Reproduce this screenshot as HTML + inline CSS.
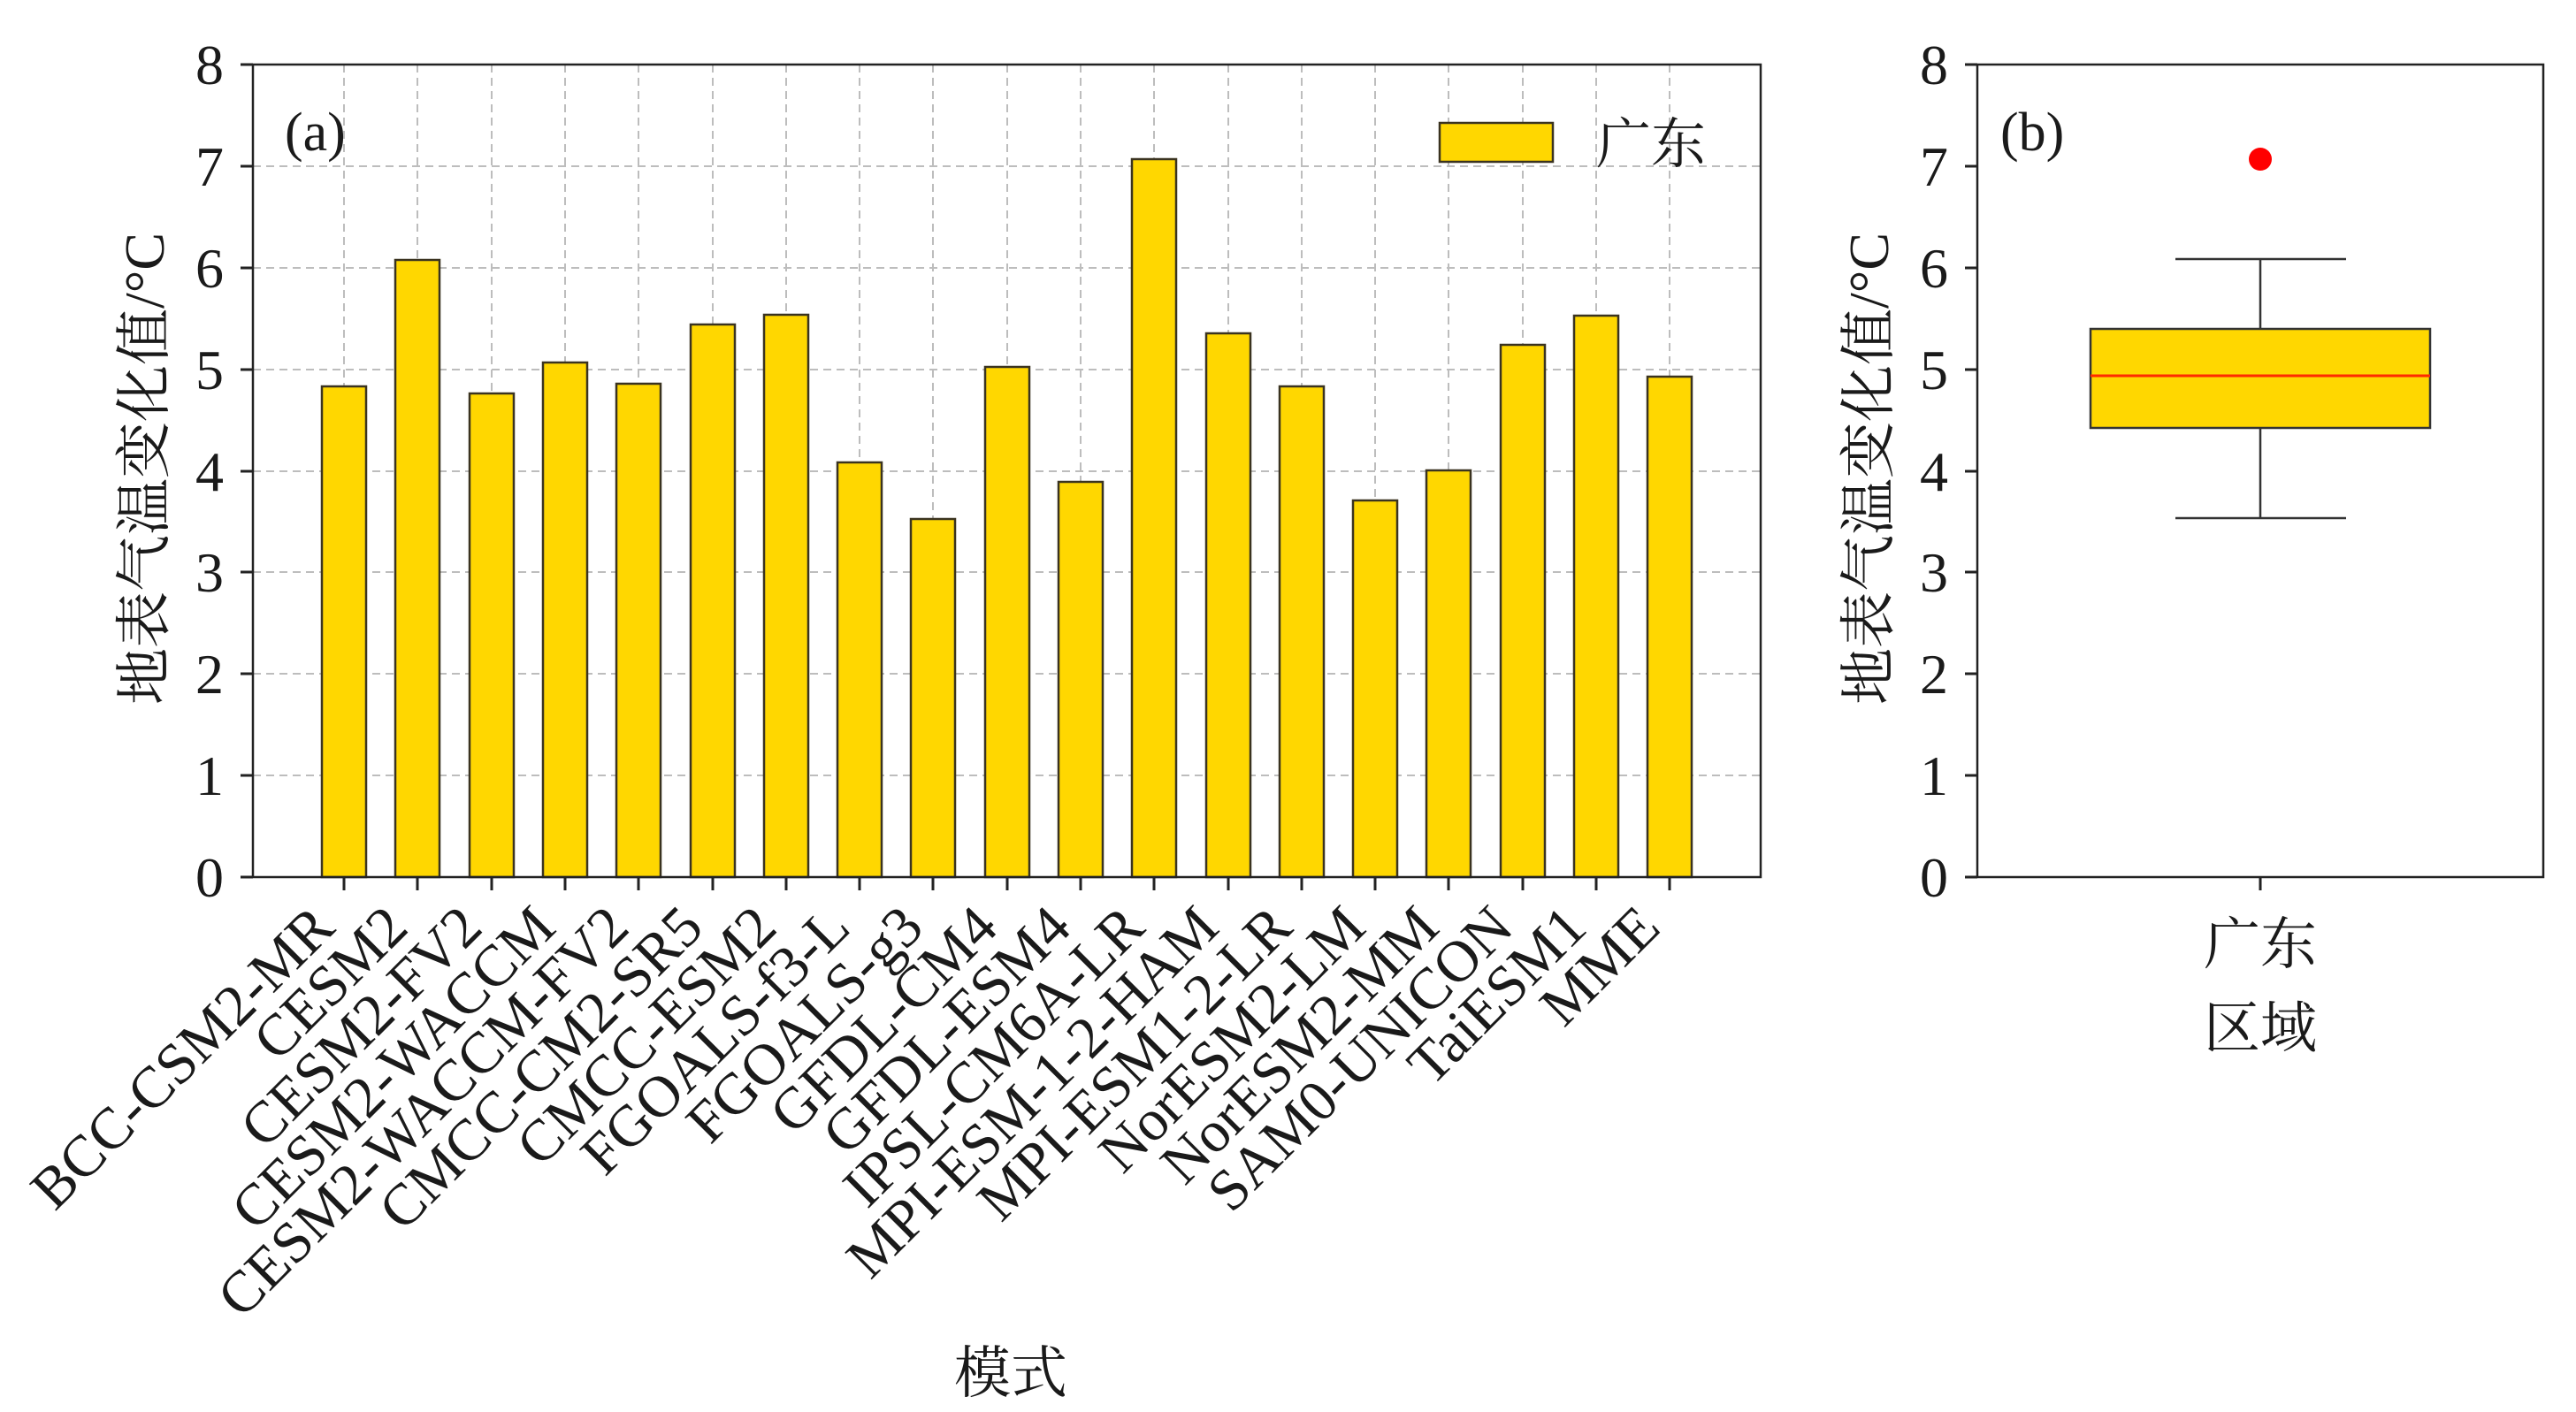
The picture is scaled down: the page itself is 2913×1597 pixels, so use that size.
<!DOCTYPE html>
<html><head><meta charset="utf-8"><style>
html,body{margin:0;padding:0;background:#fff;}
svg{display:block;}
text{font-family:"Liberation Serif","Noto Serif CJK SC",serif;fill:#1a1a1a;}
</style></head><body>
<svg width="2913" height="1597" viewBox="0 0 2913 1597" xmlns="http://www.w3.org/2000/svg">
<g stroke="#bdbdbd" stroke-width="2" stroke-dasharray="9,6" fill="none">
<line x1="286" y1="188" x2="1991" y2="188"/>
<line x1="286" y1="303" x2="1991" y2="303"/>
<line x1="286" y1="418" x2="1991" y2="418"/>
<line x1="286" y1="533" x2="1991" y2="533"/>
<line x1="286" y1="647" x2="1991" y2="647"/>
<line x1="286" y1="762" x2="1991" y2="762"/>
<line x1="286" y1="877" x2="1991" y2="877"/>
<line x1="389" y1="73" x2="389" y2="992"/><line x1="472" y1="73" x2="472" y2="992"/><line x1="556" y1="73" x2="556" y2="992"/><line x1="639" y1="73" x2="639" y2="992"/><line x1="722" y1="73" x2="722" y2="992"/><line x1="806" y1="73" x2="806" y2="992"/><line x1="889" y1="73" x2="889" y2="992"/><line x1="972" y1="73" x2="972" y2="992"/><line x1="1055" y1="73" x2="1055" y2="992"/><line x1="1139" y1="73" x2="1139" y2="992"/><line x1="1222" y1="73" x2="1222" y2="992"/><line x1="1305" y1="73" x2="1305" y2="992"/><line x1="1389" y1="73" x2="1389" y2="992"/><line x1="1472" y1="73" x2="1472" y2="992"/><line x1="1555" y1="73" x2="1555" y2="992"/><line x1="1638" y1="73" x2="1638" y2="992"/><line x1="1722" y1="73" x2="1722" y2="992"/><line x1="1805" y1="73" x2="1805" y2="992"/><line x1="1888" y1="73" x2="1888" y2="992"/>
</g>
<g fill="#FFD700" stroke="#3a3320" stroke-width="2.5">
<rect x="364" y="437" width="50" height="555"/>
<rect x="447" y="294" width="50" height="698"/>
<rect x="531" y="445" width="50" height="547"/>
<rect x="614" y="410" width="50" height="582"/>
<rect x="697" y="434" width="50" height="558"/>
<rect x="781" y="367" width="50" height="625"/>
<rect x="864" y="356" width="50" height="636"/>
<rect x="947" y="523" width="50" height="469"/>
<rect x="1030" y="587" width="50" height="405"/>
<rect x="1114" y="415" width="50" height="577"/>
<rect x="1197" y="545" width="50" height="447"/>
<rect x="1280" y="180" width="50" height="812"/>
<rect x="1364" y="377" width="50" height="615"/>
<rect x="1447" y="437" width="50" height="555"/>
<rect x="1530" y="566" width="50" height="426"/>
<rect x="1613" y="532" width="50" height="460"/>
<rect x="1697" y="390" width="50" height="602"/>
<rect x="1780" y="357" width="50" height="635"/>
<rect x="1863" y="426" width="50" height="566"/>
</g>
<rect x="286" y="73" width="1705" height="919" fill="none" stroke="#222" stroke-width="2.5"/>
<g stroke="#222" stroke-width="3">
<line x1="272" y1="73" x2="286" y2="73"/><line x1="272" y1="188" x2="286" y2="188"/><line x1="272" y1="303" x2="286" y2="303"/><line x1="272" y1="418" x2="286" y2="418"/><line x1="272" y1="533" x2="286" y2="533"/><line x1="272" y1="647" x2="286" y2="647"/><line x1="272" y1="762" x2="286" y2="762"/><line x1="272" y1="877" x2="286" y2="877"/><line x1="272" y1="992" x2="286" y2="992"/>
<line x1="389" y1="992" x2="389" y2="1007"/><line x1="472" y1="992" x2="472" y2="1007"/><line x1="556" y1="992" x2="556" y2="1007"/><line x1="639" y1="992" x2="639" y2="1007"/><line x1="722" y1="992" x2="722" y2="1007"/><line x1="806" y1="992" x2="806" y2="1007"/><line x1="889" y1="992" x2="889" y2="1007"/><line x1="972" y1="992" x2="972" y2="1007"/><line x1="1055" y1="992" x2="1055" y2="1007"/><line x1="1139" y1="992" x2="1139" y2="1007"/><line x1="1222" y1="992" x2="1222" y2="1007"/><line x1="1305" y1="992" x2="1305" y2="1007"/><line x1="1389" y1="992" x2="1389" y2="1007"/><line x1="1472" y1="992" x2="1472" y2="1007"/><line x1="1555" y1="992" x2="1555" y2="1007"/><line x1="1638" y1="992" x2="1638" y2="1007"/><line x1="1722" y1="992" x2="1722" y2="1007"/><line x1="1805" y1="992" x2="1805" y2="1007"/><line x1="1888" y1="992" x2="1888" y2="1007"/>
</g>
<g font-size="64" text-anchor="end">
<text x="253" y="95">8</text><text x="253" y="210">7</text><text x="253" y="325">6</text><text x="253" y="440">5</text><text x="253" y="555">4</text><text x="253" y="669">3</text><text x="253" y="784">2</text><text x="253" y="899">1</text><text x="253" y="1014">0</text>
</g>
<text x="322" y="170" font-size="62">(a)</text>
<rect x="1628" y="139" width="128" height="44" fill="#FFD700" stroke="#3a3320" stroke-width="2.5"/>
<text x="1805" y="184" font-size="62">广东</text>
<text transform="translate(185,530) rotate(-90)" font-size="64" text-anchor="middle">地表气温变化值/°C</text>
<g font-size="66" text-anchor="end">
<text transform="translate(381,1052) rotate(-45)">BCC-CSM2-MR</text>
<text transform="translate(464,1052) rotate(-45)">CESM2</text>
<text transform="translate(548,1052) rotate(-45)">CESM2-FV2</text>
<text transform="translate(631,1052) rotate(-45)">CESM2-WACCM</text>
<text transform="translate(714,1052) rotate(-45)">CESM2-WACCM-FV2</text>
<text transform="translate(798,1052) rotate(-45)">CMCC-CM2-SR5</text>
<text transform="translate(881,1052) rotate(-45)">CMCC-ESM2</text>
<text transform="translate(964,1052) rotate(-45)">FGOALS-f3-L</text>
<text transform="translate(1047,1052) rotate(-45)">FGOALS-g3</text>
<text transform="translate(1131,1052) rotate(-45)">GFDL-CM4</text>
<text transform="translate(1214,1052) rotate(-45)">GFDL-ESM4</text>
<text transform="translate(1297,1052) rotate(-45)">IPSL-CM6A-LR</text>
<text transform="translate(1381,1052) rotate(-45)">MPI-ESM-1-2-HAM</text>
<text transform="translate(1464,1052) rotate(-45)">MPI-ESM1-2-LR</text>
<text transform="translate(1547,1052) rotate(-45)">NorESM2-LM</text>
<text transform="translate(1630,1052) rotate(-45)">NorESM2-MM</text>
<text transform="translate(1714,1052) rotate(-45)">SAM0-UNICON</text>
<text transform="translate(1797,1052) rotate(-45)">TaiESM1</text>
<text transform="translate(1880,1052) rotate(-45)">MME</text>
</g>
<text x="1143" y="1575" font-size="64" text-anchor="middle">模式</text>

<!-- panel b -->
<rect x="2236" y="73" width="640" height="919" fill="none" stroke="#222" stroke-width="2.5"/>
<g stroke="#222" stroke-width="3">
<line x1="2222" y1="73" x2="2236" y2="73"/><line x1="2222" y1="188" x2="2236" y2="188"/><line x1="2222" y1="303" x2="2236" y2="303"/><line x1="2222" y1="418" x2="2236" y2="418"/><line x1="2222" y1="533" x2="2236" y2="533"/><line x1="2222" y1="647" x2="2236" y2="647"/><line x1="2222" y1="762" x2="2236" y2="762"/><line x1="2222" y1="877" x2="2236" y2="877"/><line x1="2222" y1="992" x2="2236" y2="992"/>
<line x1="2556" y1="992" x2="2556" y2="1007"/>
</g>
<g font-size="64" text-anchor="end">
<text x="2203" y="95">8</text><text x="2203" y="210">7</text><text x="2203" y="325">6</text><text x="2203" y="440">5</text><text x="2203" y="555">4</text><text x="2203" y="669">3</text><text x="2203" y="784">2</text><text x="2203" y="899">1</text><text x="2203" y="1014">0</text>
</g>
<text x="2262" y="170" font-size="62">(b)</text>
<text transform="translate(2135,530) rotate(-90)" font-size="64" text-anchor="middle">地表气温变化值/°C</text>
<g stroke="#333" stroke-width="2.5">
<line x1="2556" y1="293" x2="2556" y2="372"/>
<line x1="2556" y1="484" x2="2556" y2="586"/>
<line x1="2460" y1="293" x2="2653" y2="293"/>
<line x1="2460" y1="586" x2="2653" y2="586"/>
</g>
<rect x="2364" y="372" width="384" height="112" fill="#FFD700" stroke="#333" stroke-width="2.5"/>
<line x1="2364" y1="425" x2="2748" y2="425" stroke="#ff2a00" stroke-width="3"/>
<circle cx="2556" cy="180" r="13" fill="#ff0000"/>
<text x="2556" y="1090" font-size="64" text-anchor="middle">广东</text>
<text x="2556" y="1185" font-size="64" text-anchor="middle">区域</text>
</svg>
</body></html>
